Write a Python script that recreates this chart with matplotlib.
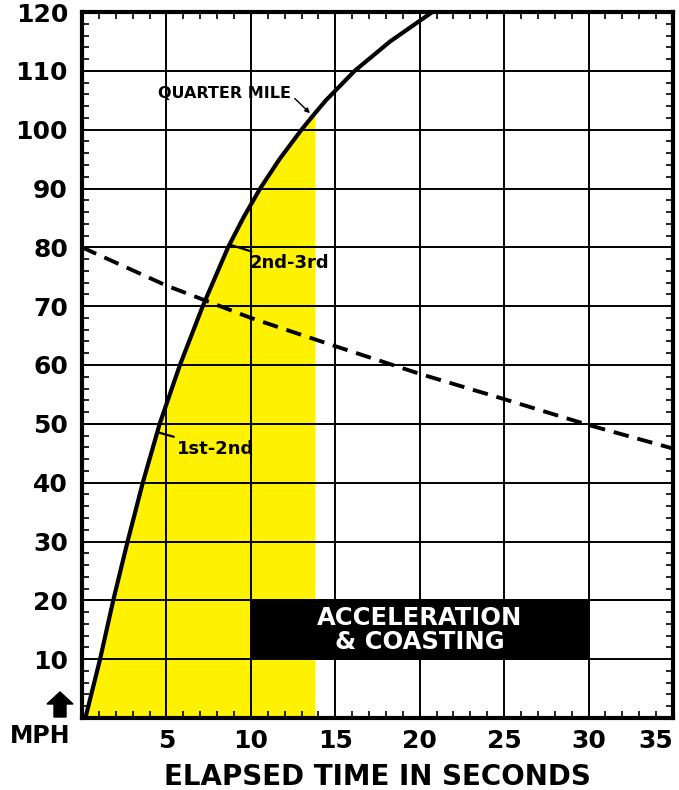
import numpy as np
import matplotlib.pyplot as plt
from matplotlib.patches import FancyArrow

# speed curve (time in s, speed in mph)
accel_time = [0.2, 1.07, 1.85, 2.7, 3.6, 4.6, 5.8, 7.15, 8.65, 9.55, 10.55, 11.7, 13.0, 13.8,
              14.45, 16.15, 18.25, 20.75]
accel_mph = [0, 10, 20, 30, 40, 50, 60, 70, 80, 85, 90, 95, 100, 102.8,
             105, 110, 115, 120]

# dashed line
coast_time = [0, 5, 10, 15, 20, 25, 30, 35]
coast_mph = [80, 73.5, 68, 63.2, 58.5, 54.2, 49.8, 45.8]

quarter_mile_time = 13.8
quarter_mile_mph = 102.8
shift_1_2 = (4.45, 48.6)
shift_2_3 = (8.7, 80.5)

box_time = (10, 30)
box_mph = (10, 20)

x_ticks = [5, 10, 15, 20, 25, 30, 35]
y_ticks = [10, 20, 30, 40, 50, 60, 70, 80, 90, 100, 110, 120]

YELLOW = '#FFF200'

fig = plt.figure(figsize=(6.79, 7.90), dpi=100)
ax = fig.add_axes([82 / 679, 1 - 718 / 790, (673 - 82) / 679, (718 - 12) / 790])
ax.set_xlim(0, 35)
ax.set_ylim(0, 120)

t = np.array(accel_time)
v = np.array(accel_mph)
mask = t <= quarter_mile_time
ax.fill_between(np.r_[0, t[mask]], np.r_[0, v[mask]], 0, color=YELLOW, lw=0, zorder=1)

for xv in range(5, 35, 5):
    ax.axvline(xv, color='black', lw=1.4, zorder=2)
for yv in range(10, 120, 10):
    ax.axhline(yv, color='black', lw=1.4, zorder=2)

# black box
ax.fill_between(box_time, box_mph[0], box_mph[1], color='black', lw=0, zorder=3)
ax.text(sum(box_time) / 2, sum(box_mph) / 2, 'ACCELERATION\n& COASTING', color='white',
        ha='center', va='center', fontsize=17.5, fontweight='bold', linespacing=1.0, zorder=4)

ax.plot(coast_time, coast_mph, color='black', lw=2.8, ls=(0, (4, 2.3)), zorder=5)
ax.plot(accel_time, accel_mph, color='black', lw=3, zorder=5, solid_joinstyle='round')

ax.text(12.4, 106.2, 'QUARTER MILE', ha='right', va='center', fontsize=11.5,
        fontweight='bold', zorder=6)
ax.annotate('', xy=(quarter_mile_time - 0.3, quarter_mile_mph), xytext=(12.6, 105.3),
            arrowprops=dict(arrowstyle='-|>', color='black', lw=1, mutation_scale=7,
                            shrinkA=0, shrinkB=0), zorder=6)
ax.annotate('2nd-3rd', xy=shift_2_3, xytext=(9.9, 77.3), ha='left', va='center',
            fontsize=13, fontweight='bold',
            arrowprops=dict(arrowstyle='-', color='black', lw=1.6, shrinkA=0, shrinkB=0), zorder=6)
ax.annotate('1st-2nd', xy=shift_1_2, xytext=(5.6, 45.8), ha='left', va='center',
            fontsize=13, fontweight='bold',
            arrowprops=dict(arrowstyle='-', color='black', lw=1.6, shrinkA=0, shrinkB=0), zorder=6)

ax.set_xticks(x_ticks)
ax.set_xticklabels([str(x) for x in x_ticks])
ax.set_yticks(y_ticks)
ax.set_yticklabels([str(y) for y in y_ticks])
ax.set_xticks(np.arange(0, 36, 1), minor=True)
ax.set_yticks(np.arange(0, 121, 2), minor=True)
ax.tick_params(which='major', length=0, labelsize=18)
ax.tick_params(axis='y', which='major', pad=10)
ax.tick_params(axis='x', which='major', pad=8)
ax.tick_params(which='minor', direction='in', length=5, width=1.2,
               top=True, right=True, bottom=True, left=True)
for lab in ax.get_xticklabels() + ax.get_yticklabels():
    lab.set_fontweight('bold')
ax.get_xticklabels()[-1].set_horizontalalignment('right')

for sp in ax.spines.values():
    sp.set_linewidth(3)
    sp.set_zorder(7)

ax.set_xlabel('ELAPSED TIME IN SECONDS', fontsize=20, fontweight='bold', labelpad=7)

# MPH marker bottom left
fig.patches.append(FancyArrow(60 / 679, 1 - 717 / 790, 0, 25 / 790, width=12 / 679,
                              head_width=26 / 679, head_length=12 / 790,
                              length_includes_head=True, color='black',
                              transform=fig.transFigure, figure=fig))
fig.text(40 / 679, 1 - 736 / 790, 'MPH', ha='center', va='center', fontsize=17, fontweight='bold')

fig.savefig('out.png', dpi=100)
